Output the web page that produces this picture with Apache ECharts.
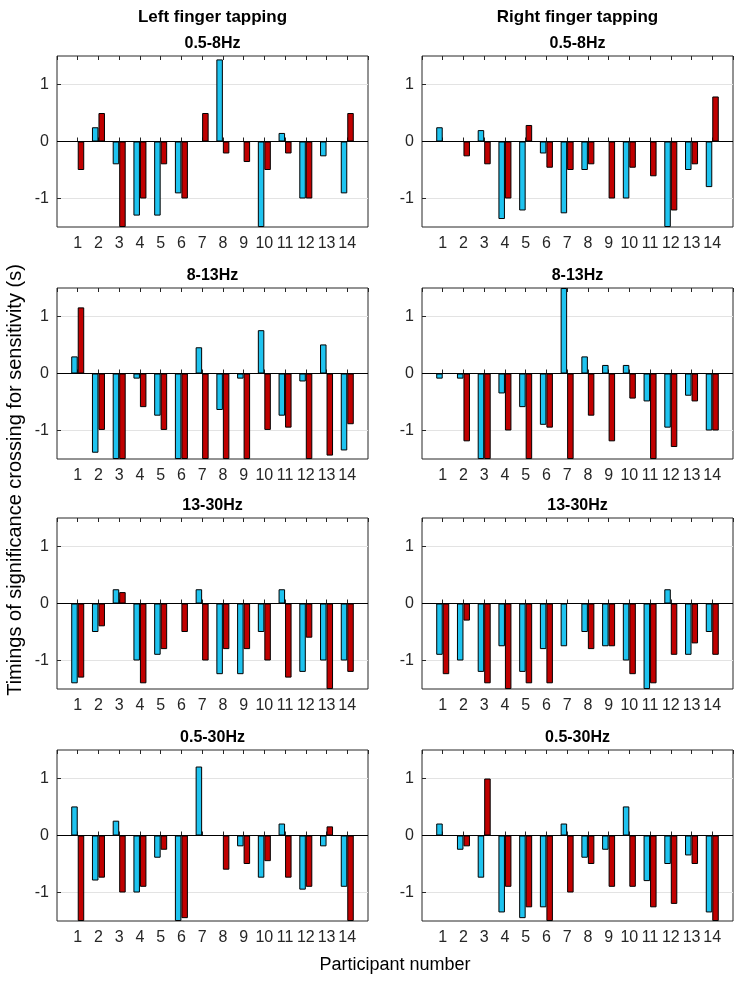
<!DOCTYPE html>
<html>
<head>
<meta charset="utf-8">
<script src="https://cdn.jsdelivr.net/npm/echarts@6/dist/echarts.min.js"></script>
<style>
html,body{margin:0;padding:0;background:#fff;}
#chart{width:739px;height:981px;}
</style>
</head>
<body>
<div id="chart"></div>
<script>
// ---------- data ----------
const participants = [1, 2, 3, 4, 5, 6, 7, 8, 9, 10, 11, 12, 13, 14];
const columnTitles = ['Left finger tapping', 'Right finger tapping'];
const bandTitles = ['0.5-8Hz', '8-13Hz', '13-30Hz', '0.5-30Hz'];
const yTickValues = [-1, 0, 1];
const xAxisTitle = 'Participant number';
const yAxisTitle = 'Timings of significance crossing for sensitivity (s)';

const left_05_8_cyan  = [0, 0.25, -0.40, -1.30, -1.30, -0.91, 0, 1.44, 0, -1.5, 0.15, -1.0, -0.26, -0.91];
const left_05_8_red   = [-0.50, 0.50, -1.5, -1.0, -0.40, -1.0, 0.50, -0.21, -0.36, -0.50, -0.21, -1.0, 0, 0.50];
const right_05_8_cyan = [0.25, 0, 0.20, -1.36, -1.21, -0.21, -1.26, -0.50, 0, -1.0, 0, -1.5, -0.50, -0.80];
const right_05_8_red  = [0, -0.26, -0.40, -1.0, 0.29, -0.46, -0.50, -0.40, -1.0, -0.46, -0.61, -1.21, -0.40, 0.79];

const left_8_13_cyan  = [0.30, -1.39, -1.5, -0.09, -0.74, -1.5, 0.46, -0.64, -0.09, 0.76, -0.74, -0.14, 0.51, -1.35];
const left_8_13_red   = [1.16, -0.99, -1.5, -0.59, -0.99, -1.5, -1.5, -1.5, -1.5, -0.99, -0.95, -1.5, -1.44, -0.89];
const right_8_13_cyan = [-0.09, -0.09, -1.5, -0.35, -0.59, -0.90, 1.5, 0.30, 0.15, 0.15, -0.49, -0.95, -0.39, -1.0];
const right_8_13_red  = [0, -1.19, -1.5, -1.0, -1.5, -0.95, -1.5, -0.74, -1.19, -0.44, -1.5, -1.29, -0.49, -1.0];

const left_13_30_cyan  = [-1.40, -0.50, 0.25, -1.0, -0.90, 0, 0.25, -1.24, -1.24, -0.50, 0.25, -1.20, -1.0, -1.0];
const left_13_30_red   = [-1.30, -0.40, 0.20, -1.40, -0.80, -0.50, -1.0, -0.80, -0.80, -1.0, -1.30, -0.60, -1.5, -1.20];
const right_13_30_cyan = [-0.90, -1.0, -1.20, -0.75, -1.20, -0.80, -0.75, -0.50, -0.75, -1.0, -1.5, 0.25, -0.90, -0.50];
const right_13_30_red  = [-1.24, -0.30, -1.40, -1.5, -1.40, -1.40, 0, -0.80, -0.75, -1.24, -1.40, -0.90, -0.70, -0.90];

const left_05_30_cyan  = [0.51, -0.79, 0.26, -1.0, -0.39, -1.5, 1.21, 0, -0.19, -0.74, 0.21, -0.95, -0.19, -0.90];
const left_05_30_red   = [-1.5, -0.74, -1.0, -0.90, -0.25, -1.45, 0, -0.60, -0.50, -0.45, -0.74, -0.90, 0.16, -1.5];
const right_05_30_cyan = [0.21, -0.25, -0.74, -1.35, -1.45, -1.26, 0.21, -0.39, -0.25, 0.51, -0.80, -0.50, -0.35, -1.35];
const right_05_30_red  = [0, -0.19, 1.0, -0.90, -1.26, -1.5, -1.0, -0.50, -0.90, -0.90, -1.26, -1.20, -0.50, -1.5];

// panels in row-major order: [row][col]
const panels = [
  [[left_05_8_cyan, left_05_8_red], [right_05_8_cyan, right_05_8_red]],
  [[left_8_13_cyan, left_8_13_red], [right_8_13_cyan, right_8_13_red]],
  [[left_13_30_cyan, left_13_30_red], [right_13_30_cyan, right_13_30_red]],
  [[left_05_30_cyan, left_05_30_red], [right_05_30_cyan, right_05_30_red]]
];

// ---------- layout / style ----------
const FONT = '"Liberation Sans", Arial, Helvetica, sans-serif';
const gridLefts = [57, 422];
const gridTops = [56, 288, 518, 750];
const gridW = 311, gridH = 171;
const CYAN = '#1FC3EF', RED = '#C00000', AXIS = '#262626';

const chart = echarts.init(document.getElementById('chart'), null, {renderer: 'canvas'});

const grid = [], xAxis = [], yAxis = [], series = [], graphic = [];

for (let r = 0; r < 4; r++) {
  for (let c = 0; c < 2; c++) {
    const p = r * 2 + c;
    grid.push({
      left: gridLefts[c], top: gridTops[r], width: gridW, height: gridH,
      show: true, borderColor: AXIS, borderWidth: 1, backgroundColor: '#fff',
      containLabel: false
    });
    xAxis.push({
      type: 'value', gridIndex: p, min: 0, max: 15, interval: 1, position: 'bottom',
      axisLine: {show: false},
      axisTick: {show: true, inside: true, length: 4, lineStyle: {color: AXIS, width: 1}},
      axisLabel: {
        show: true, fontFamily: FONT, fontSize: 16, color: AXIS, margin: 9,
        showMinLabel: false, showMaxLabel: false,
        formatter: v => (v >= 1 && v <= 14) ? String(v) : ''
      },
      splitLine: {show: false}
    });
    xAxis.push({
      type: 'value', gridIndex: p, min: 0, max: 15, interval: 1, position: 'top',
      axisLine: {show: false},
      axisTick: {show: true, inside: true, length: 4, lineStyle: {color: AXIS, width: 1}},
      axisLabel: {show: false},
      splitLine: {show: false}
    });
    yAxis.push({
      type: 'value', gridIndex: p, min: -1.5, max: 1.5,
      axisLine: {show: false},
      axisTick: {show: true, inside: true, length: 4, customValues: yTickValues, lineStyle: {color: AXIS}},
      axisLabel: {show: true, customValues: yTickValues, fontFamily: FONT, fontSize: 16, color: AXIS, margin: 8},
      splitLine: {show: true, lineStyle: {color: '#e3e3e3', width: 1}}
    });
    const [cy, rd] = panels[r][c];
    series.push({
      type: 'bar', xAxisIndex: p * 2, yAxisIndex: p,
      data: participants.map((x, i) => [x, cy[i]]),
      barWidth: 6.5, barGap: '0%', clip: true,
      itemStyle: {color: CYAN, borderColor: '#000', borderWidth: 1},
      emphasis: {disabled: true}, animation: false, z: 3
    });
    series.push({
      type: 'bar', xAxisIndex: p * 2, yAxisIndex: p,
      data: participants.map((x, i) => [x, rd[i]]),
      barWidth: 6.5, barGap: '0%', clip: true,
      itemStyle: {color: RED, borderColor: '#000', borderWidth: 1},
      emphasis: {disabled: true}, animation: false, z: 3,
      markLine: {
        silent: true, symbol: ['none', 'none'], animation: false,
        label: {show: false},
        lineStyle: {color: '#000', type: 'solid', width: 1},
        data: [{yAxis: 0}]
      }
    });
    graphic.push({
      type: 'text', x: gridLefts[c] + gridW / 2, y: gridTops[r] - 12,
      style: {text: bandTitles[r], font: 'bold 16px ' + FONT, fill: '#000', align: 'center', verticalAlign: 'middle'}
    });
  }
}

columnTitles.forEach((t, c) => {
  graphic.push({
    type: 'text', x: gridLefts[c] + gridW / 2, y: 17,
    style: {text: t, font: 'bold 17px ' + FONT, fill: '#000', align: 'center', verticalAlign: 'middle'}
  });
});
graphic.push({
  type: 'text', x: 395, y: 965,
  style: {text: xAxisTitle, font: '18px ' + FONT, fill: '#000', align: 'center', verticalAlign: 'middle'}
});
graphic.push({
  type: 'text', x: 15, y: 480, rotation: Math.PI / 2,
  style: {text: yAxisTitle, font: '20px ' + FONT, fill: '#000', align: 'center', verticalAlign: 'middle'}
});

chart.setOption({
  animation: false,
  backgroundColor: '#fff',
  grid, xAxis, yAxis, series, graphic
});
</script>
</body>
</html>
